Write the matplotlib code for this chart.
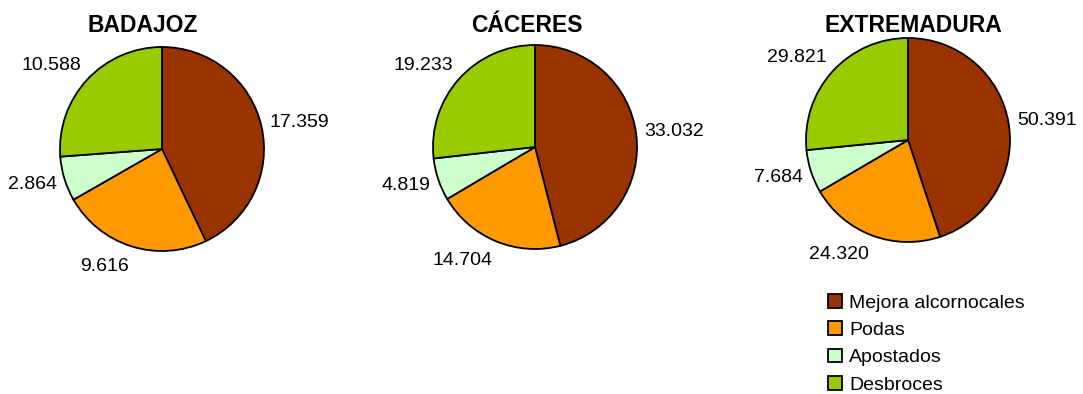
import numpy as np
import matplotlib
matplotlib.use("Agg")
import matplotlib.pyplot as plt

plt.rcParams['font.family'] = ['Liberation Sans', 'DejaVu Sans']

categories = ["Mejora alcornocales", "Podas", "Apostados", "Desbroces"]
colors = ["#993300", "#FF9900", "#CCFFCC", "#99CC00"]

badajoz = [17.359, 9.616, 2.864, 10.588]
caceres = [33.032, 14.704, 4.819, 19.233]
extremadura = [50.391, 24.320, 7.684, 29.821]

titles = ["BADAJOZ", "CÁCERES", "EXTREMADURA"]

W, H = 1083, 394
fig = plt.figure(figsize=(W / 100, H / 100), dpi=100)

# pie centres and radius in pixels, title centres
centres = [(162, 149), (535, 147), (908, 140)]
radius = 102
title_x = [143, 527, 913]
title_y = 26


def fmt(v):
    return "{:.3f}".format(v)


def draw_pie(ax, values):
    wedges, _ = ax.pie(values, colors=colors, startangle=90, counterclock=False,
                       wedgeprops=dict(edgecolor="black", linewidth=1.3))
    for w in wedges:
        w.set_clip_on(False)
    ax.set_xlim(-1, 1)
    ax.set_ylim(-1, 1)
    ax.set_aspect("equal")
    ax.axis("off")
    total = float(sum(values))
    start = 90.0
    for v in values:
        span = 360.0 * v / total
        mid = np.radians(start - span / 2)
        start -= span
        c, s = np.cos(mid), np.sin(mid)
        ax.annotate(fmt(v), xy=(1.08 * c, 1.08 * s), xytext=(0, 9 * s),
                    textcoords="offset points", fontsize=14,
                    ha="left" if c > 0 else "right", va="center",
                    annotation_clip=False)
    return wedges


data = [badajoz, caceres, extremadura]
handles = None
for (cx, cy), values, title, tx in zip(centres, data, titles, title_x):
    ax = fig.add_axes([(cx - radius) / W, (H - cy - radius) / H,
                       2 * radius / W, 2 * radius / H])
    handles = draw_pie(ax, values)
    fig.text(tx / W, 1 - title_y / H, title, fontsize=16.5, fontweight="bold",
             ha="center", va="center")

fig.legend(handles, categories, loc="upper left", bbox_to_anchor=(828 / W, 1 - 294 / H),
           frameon=False, fontsize=14, handlelength=0.7, handleheight=0.7,
           handletextpad=0.4, labelspacing=0.5, borderpad=0, borderaxespad=0)

fig.savefig("out.png", dpi=100)
